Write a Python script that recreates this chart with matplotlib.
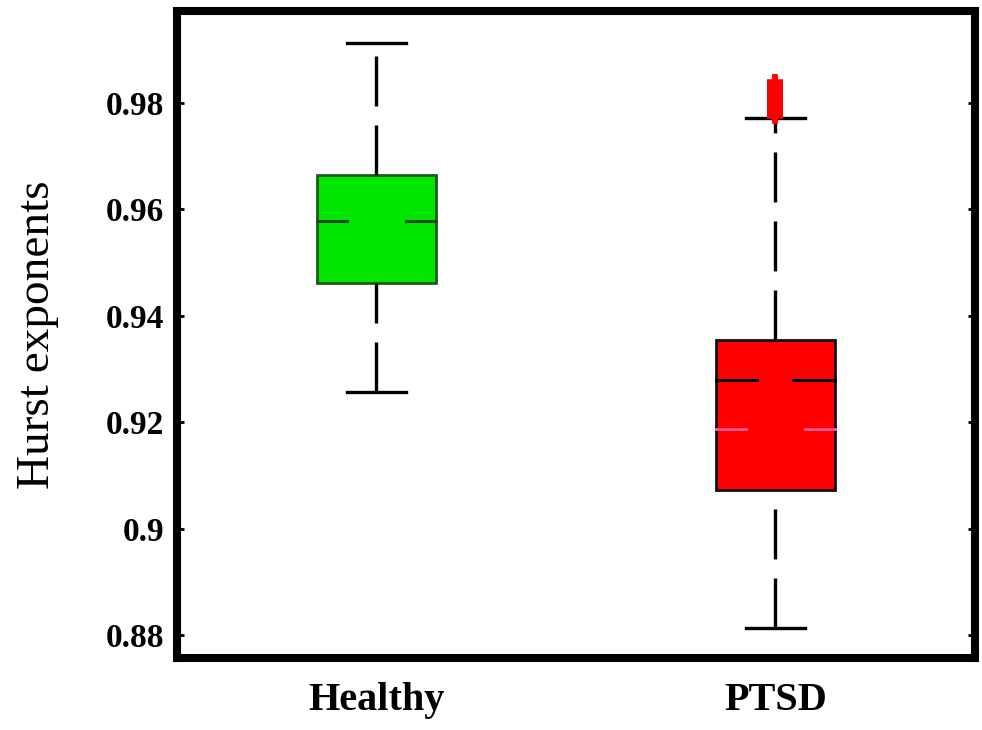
import numpy as np
import matplotlib as mpl
import matplotlib.pyplot as plt

mpl.rcParams['lines.scale_dashes'] = False
plt.rcParams['font.family'] = ['Liberation Serif', 'DejaVu Serif']

# data
groups = ['Healthy', 'PTSD']
q1 = [0.9462, 0.9073]
med = [0.9578, 0.9279]
q3 = [0.9665, 0.9355]
whis_lo = [0.9257, 0.8813]
whis_hi = [0.9913, 0.9772]
mean_ptsd = 0.9187
ptsd_outliers = [0.9775, 0.9780, 0.9785, 0.9790, 0.9795, 0.9800, 0.9805, 0.9810,
                 0.9815, 0.9820, 0.9825, 0.9830, 0.9835, 0.9840]
yticks = [0.88, 0.90, 0.92, 0.94, 0.96, 0.98]
ytick_labels = ['0.88', '0.9', '0.92', '0.94', '0.96', '0.98']

box_colors = ['#00e600', '#ff0000']
edge_colors = ['#1e5a1e', '#111111']
median_colors = ['#1e4a1e', '#000000']

fig = plt.figure(figsize=(9.82, 7.30), dpi=100)
ax = fig.add_axes([0.1802, 0.0986, 0.8126, 0.8863])

stats = []
for i in range(len(groups)):
    stats.append(dict(label=groups[i], q1=q1[i], med=med[i], q3=q3[i],
                      whislo=whis_lo[i], whishi=whis_hi[i], fliers=[]))

pos = [1, 2]
bp = ax.bxp(stats, positions=pos, widths=0.3, patch_artist=True,
            showfliers=False, capwidths=0.15,
            medianprops=dict(visible=False),
            whiskerprops=dict(color='black', linewidth=2.4, linestyle=(0, (36, 13.7))),
            capprops=dict(color='black', linewidth=2.4))

# lower whiskers: dash pattern starts at the cap
for k, w in enumerate(bp['whiskers']):
    if k % 2 == 0:
        x, y = w.get_data()
        w.set_data(x[::-1], y[::-1])

for i, b in enumerate(bp['boxes']):
    b.set_facecolor(box_colors[i])
    b.set_edgecolor(edge_colors[i])
    b.set_linewidth(2)

# median drawn as split line (gap in the middle)
gaps = [0.075, 0.045]
for i, p in enumerate(pos):
    ax.plot([p - 0.15, p - gaps[i]], [med[i], med[i]], color=median_colors[i], lw=2.2, zorder=3)
    ax.plot([p + gaps[i], p + 0.15], [med[i], med[i]], color=median_colors[i], lw=2.2, zorder=3)

# pink line in PTSD box
ax.plot([2 - 0.15, 2 - 0.075], [mean_ptsd, mean_ptsd], color='#ff5c9a', lw=2, zorder=3)
ax.plot([2 + 0.075, 2 + 0.15], [mean_ptsd, mean_ptsd], color='#ff5c9a', lw=2, zorder=3)

# outliers
ax.plot([2] * len(ptsd_outliers), ptsd_outliers, linestyle='none', marker='+',
        markersize=11.5, mew=4, color='#ff0000', zorder=4)

ax.set_xlim(0.5, 2.5)
ax.set_ylim(0.8757, 0.9973)
ax.set_yticks(yticks)
ax.set_yticklabels(ytick_labels, fontsize=24, fontweight='bold')
ax.set_xticks(pos)
ax.set_xticklabels(groups, fontsize=29, fontweight='bold')
ax.tick_params(axis='y', direction='in', length=5, width=2, right=True, pad=9)
ax.tick_params(axis='x', length=0, pad=17)
ax.set_ylabel('Hurst exponents', fontsize=34, labelpad=34)

for s in ax.spines.values():
    s.set_linewidth(5.8)

fig.savefig('out.png', dpi=100)
